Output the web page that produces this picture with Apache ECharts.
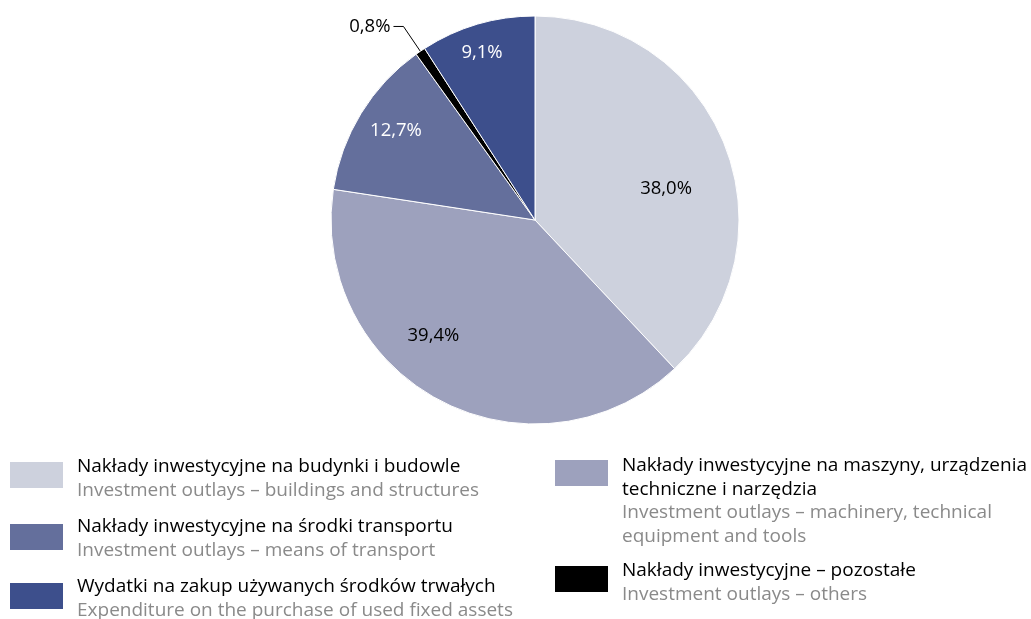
<!DOCTYPE html>
<html>
<head>
<meta charset="utf-8">
<script src="https://cdn.jsdelivr.net/npm/echarts@6/dist/echarts.min.js"></script>
<style>
  html, body { margin: 0; padding: 0; background: #fff; }
  #chart { width: 1031px; height: 619px; }
</style>
</head>
<body>
<div id="chart"></div>
<script>
// dane
const namesPl = [
  'Nakłady inwestycyjne na budynki i budowle',
  'Nakłady inwestycyjne na maszyny, urządzenia\ntechniczne i narzędzia',
  'Nakłady inwestycyjne na środki transportu',
  'Nakłady inwestycyjne – pozostałe',
  'Wydatki na zakup używanych środków trwałych'
];
const namesEn = [
  'Investment outlays – buildings and structures',
  'Investment outlays – machinery, technical\nequipment and tools',
  'Investment outlays – means of transport',
  'Investment outlays – others',
  'Expenditure on the purchase of used fixed assets'
];
const values = [38.0, 39.4, 12.7, 0.8, 9.1];

const colors = ['#cdd1dd', '#9da1bd', '#646f9c', '#000000', '#3d4f8c'];
const labelColors = ['#000', '#000', '#fff', '#000', '#fff'];
// przesunięcia etykiet wewnątrz wycinków
const labelOffsets = [[-14, 26], [-29, -22], [-6, -8], [0, 0], [-9, -18]];

const FONT = '"Open Sans", "Noto Sans", sans-serif';
const fmt = v => v.toFixed(1).replace('.', ',') + '%';

const chart = echarts.init(document.getElementById('chart'));

// legenda jako grafika (pozycje bloków)
const legendPos = [
  { x: 10, y: 462, tx: 77, ty: 455 },
  { x: 555, y: 460, tx: 622, ty: 454 },
  { x: 10, y: 524, tx: 77, ty: 515 },
  { x: 555, y: 566, tx: 622, ty: 559 },
  { x: 10, y: 583, tx: 77, ty: 575 }
];
const graphic = [];
namesPl.forEach((n, i) => {
  const p = legendPos[i];
  graphic.push({
    type: 'rect',
    shape: { x: p.x, y: p.y, width: 53, height: 26 },
    style: { fill: colors[i] }
  });
  const pl = n.split('\n').map(s => '{a|' + s + '}').join('\n');
  const en = namesEn[i].split('\n').map(s => '{b|' + s + '}').join('\n');
  graphic.push({
    type: 'text',
    x: p.tx,
    y: p.ty,
    style: {
      text: pl + '\n' + en,
      fontFamily: FONT,
      fontSize: 19,
      rich: {
        a: { fontSize: 19, lineHeight: 23.5, fill: '#000', fontFamily: FONT },
        b: { fontSize: 19, lineHeight: 23.5, fill: '#8a8a8a', fontFamily: FONT }
      }
    }
  });
});

const option = {
  backgroundColor: '#fff',
  animation: false,
  graphic: graphic,
  series: [
    {
      type: 'pie',
      center: [535, 220],
      radius: 204,
      startAngle: 90,
      clockwise: true,
      avoidLabelOverlap: false,
      itemStyle: { borderColor: '#fff', borderWidth: 1 },
      label: { show: false },
      labelLine: { show: false },
      data: values.map((v, i) => {
        const item = { name: namesPl[i], value: v, itemStyle: { color: colors[i] } };
        if (i === 3) {
          item.label = {
            show: true,
            position: 'outside',
            formatter: p => fmt(p.value),
            color: '#000',
            fontSize: 18.5,
            fontFamily: FONT,
            distanceToLabelLine: 3
          };
          item.labelLine = {
            show: true,
            length: 30,
            length2: 10,
            lineStyle: { color: '#000', width: 1 }
          };
        }
        return item;
      })
    },
    {
      // przezroczysta warstwa tylko dla etykiet wewnętrznych
      type: 'pie',
      center: [535, 220],
      radius: [102, 204],
      startAngle: 90,
      clockwise: true,
      silent: true,
      avoidLabelOverlap: false,
      itemStyle: { color: 'rgba(0,0,0,0)', borderWidth: 0 },
      labelLine: { show: false },
      data: values.map((v, i) => ({
        name: namesPl[i],
        value: v,
        label: {
          show: i !== 3,
          position: 'inside',
          formatter: p => fmt(p.value),
          color: labelColors[i],
          fontSize: 18.5,
          fontFamily: FONT,
          offset: labelOffsets[i]
        }
      }))
    }
  ]
};

chart.setOption(option);
</script>
</body>
</html>
